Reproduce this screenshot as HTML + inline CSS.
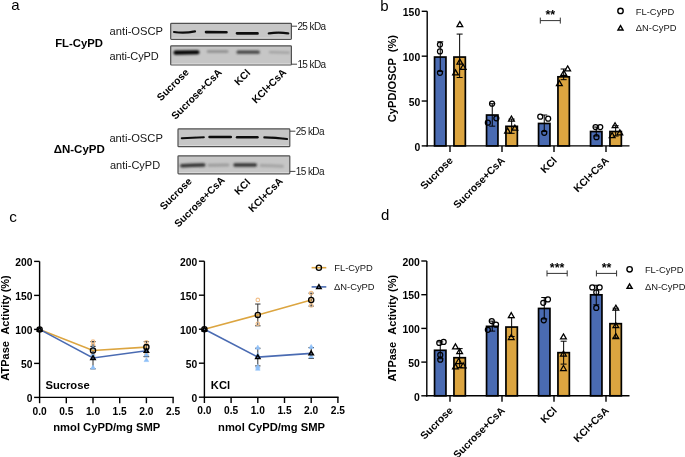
<!DOCTYPE html>
<html><head><meta charset="utf-8"><style>
html,body{margin:0;padding:0;background:#fff;}
svg{display:block;will-change:transform;font-family:"Liberation Sans",sans-serif;}
</style></head><body>
<svg width="685" height="457" viewBox="0 0 685 457">
<defs><filter id="blur" filterUnits="userSpaceOnUse" x="0" y="0" width="685" height="457"><feGaussianBlur stdDeviation="0.75"/></filter><filter id="blur2" filterUnits="userSpaceOnUse" x="0" y="0" width="685" height="457"><feGaussianBlur stdDeviation="1.0"/></filter></defs>
<rect width="685" height="457" fill="#fff"/>
<text x="11.30" y="9.80" font-size="15" font-weight="400" text-anchor="start" >a</text>
<text x="380.30" y="10.70" font-size="15" font-weight="400" text-anchor="start" >b</text>
<text x="9.20" y="221.60" font-size="15.3" font-weight="400" text-anchor="start" >c</text>
<text x="381.00" y="219.90" font-size="15" font-weight="400" text-anchor="start" >d</text>
<text x="55.20" y="46.90" font-size="11.3" font-weight="700" text-anchor="start" >FL-CyPD</text>
<text x="109.60" y="34.80" font-size="11.2" font-weight="400" text-anchor="start" fill="#161616">anti-OSCP</text>
<text x="109.40" y="59.90" font-size="11" font-weight="400" text-anchor="start" letter-spacing="-0.1" fill="#161616">anti-CyPD</text>
<rect x="170.70" y="23.40" width="120.70" height="15.90" rx="0.8" fill="#c6c6c6" stroke="#505050" stroke-width="1.2"/>
<line x1="171.60" y1="38.10" x2="290.50" y2="38.10" stroke="#dedede" stroke-width="0.8"/>
<path d="M174.0,32.0 Q184.5,33.5 195.0,31.4" stroke="#111" stroke-width="2.20" stroke-linecap="round" fill="none" filter="url(#blur)"/>
<path d="M206.0,32.1 Q216.2,32.2 226.5,32.2" stroke="#111" stroke-width="2.60" stroke-linecap="round" fill="none" filter="url(#blur)"/>
<path d="M237.0,33.3 Q247.2,33.3 257.5,33.4" stroke="#111" stroke-width="2.70" stroke-linecap="round" fill="none" filter="url(#blur)"/>
<path d="M268.8,33.3 Q278.5,32.1 288.2,33.3" stroke="#111" stroke-width="2.30" stroke-linecap="round" fill="none" filter="url(#blur)"/>
<rect x="170.70" y="45.80" width="120.70" height="19.20" rx="0.8" fill="#c6c6c6" stroke="#505050" stroke-width="1.2"/>
<line x1="171.60" y1="63.80" x2="290.50" y2="63.80" stroke="#dedede" stroke-width="0.8"/>
<path d="M175.5,52.6 Q186.5,52.4 197.5,52.2" stroke="#000" stroke-width="4.10" stroke-linecap="round" fill="none" filter="url(#blur2)"/>
<path d="M208.0,51.6 Q217.6,51.6 227.2,51.6" stroke="#8a8a8a" stroke-width="2.50" stroke-linecap="round" fill="none" filter="url(#blur2)"/>
<path d="M238.2,52.2 Q248.2,52.2 258.2,52.2" stroke="#404040" stroke-width="3.30" stroke-linecap="round" fill="none" filter="url(#blur2)"/>
<path d="M270.0,52.2 Q279.5,52.4 289.0,52.6" stroke="#a0a0a0" stroke-width="2.30" stroke-linecap="round" fill="none" filter="url(#blur2)"/>
<line x1="291.50" y1="26.20" x2="297.00" y2="26.20" stroke="#444" stroke-width="1.0"/>
<text x="297.40" y="29.80" font-size="10" font-weight="400" text-anchor="start" letter-spacing="-0.6" fill="#161616">25 kDa</text>
<line x1="291.50" y1="64.20" x2="297.00" y2="64.20" stroke="#444" stroke-width="1.0"/>
<text x="297.40" y="67.80" font-size="10" font-weight="400" text-anchor="start" letter-spacing="-0.6" fill="#161616">15 kDa</text>
<text x="53.70" y="153.10" font-size="11.5" font-weight="700" text-anchor="start" >ΔN-CyPD</text>
<text x="109.40" y="142.20" font-size="11.2" font-weight="400" text-anchor="start" fill="#161616">anti-OSCP</text>
<text x="110.00" y="168.90" font-size="11" font-weight="400" text-anchor="start" fill="#161616">anti-CyPD</text>
<rect x="178.00" y="128.90" width="111.80" height="17.80" rx="0.8" fill="#c6c6c6" stroke="#505050" stroke-width="1.2"/>
<line x1="178.90" y1="145.50" x2="288.90" y2="145.50" stroke="#dedede" stroke-width="0.8"/>
<path d="M181.8,138.3 Q192.8,137.8 203.8,137.2" stroke="#111" stroke-width="2.10" stroke-linecap="round" fill="none" filter="url(#blur)"/>
<path d="M209.5,137.0 Q220.2,137.0 230.8,137.0" stroke="#111" stroke-width="2.50" stroke-linecap="round" fill="none" filter="url(#blur)"/>
<path d="M237.0,137.2 Q247.2,137.2 257.5,137.2" stroke="#111" stroke-width="2.40" stroke-linecap="round" fill="none" filter="url(#blur)"/>
<path d="M264.3,137.4 Q275.6,137.6 287.0,139.0" stroke="#111" stroke-width="2.10" stroke-linecap="round" fill="none" filter="url(#blur)"/>
<rect x="178.00" y="155.80" width="111.80" height="18.00" rx="0.8" fill="#c6c6c6" stroke="#505050" stroke-width="1.2"/>
<line x1="178.90" y1="172.60" x2="288.90" y2="172.60" stroke="#dedede" stroke-width="0.8"/>
<path d="M181.8,165.8 Q192.8,165.4 203.8,165.1" stroke="#303030" stroke-width="3.50" stroke-linecap="round" fill="none" filter="url(#blur2)"/>
<path d="M209.0,165.2 Q218.5,165.1 228.0,165.0" stroke="#9c9c9c" stroke-width="2.90" stroke-linecap="round" fill="none" filter="url(#blur2)"/>
<path d="M235.0,165.0 Q245.2,165.0 255.3,165.0" stroke="#303030" stroke-width="3.50" stroke-linecap="round" fill="none" filter="url(#blur2)"/>
<path d="M261.0,165.5 Q271.8,165.8 282.5,166.2" stroke="#a4a4a4" stroke-width="2.90" stroke-linecap="round" fill="none" filter="url(#blur2)"/>
<line x1="289.90" y1="131.20" x2="295.40" y2="131.20" stroke="#444" stroke-width="1.0"/>
<text x="295.80" y="134.80" font-size="10" font-weight="400" text-anchor="start" letter-spacing="-0.6" fill="#161616">25 kDa</text>
<line x1="289.90" y1="171.40" x2="295.40" y2="171.40" stroke="#444" stroke-width="1.0"/>
<text x="295.80" y="175.00" font-size="10" font-weight="400" text-anchor="start" letter-spacing="-0.6" fill="#161616">15 kDa</text>
<text transform="translate(189.50,73.00) rotate(-45)" font-size="10.2" font-weight="700" text-anchor="end">Sucrose</text>
<text transform="translate(222.50,73.00) rotate(-45)" font-size="10.2" font-weight="700" text-anchor="end">Sucrose+CsA</text>
<text transform="translate(251.00,73.50) rotate(-45)" font-size="10.2" font-weight="700" text-anchor="end">KCl</text>
<text transform="translate(287.00,73.00) rotate(-45)" font-size="10.2" font-weight="700" text-anchor="end">KCl+CsA</text>
<text transform="translate(192.40,182.00) rotate(-45)" font-size="10.2" font-weight="700" text-anchor="end">Sucrose</text>
<text transform="translate(225.50,180.80) rotate(-45)" font-size="10.2" font-weight="700" text-anchor="end">Sucrose+CsA</text>
<text transform="translate(251.00,183.00) rotate(-45)" font-size="10.2" font-weight="700" text-anchor="end">KCl</text>
<text transform="translate(283.50,181.80) rotate(-45)" font-size="10.2" font-weight="700" text-anchor="end">KCl+CsA</text>
<line x1="427.20" y1="11.30" x2="427.20" y2="146.55" stroke="#000" stroke-width="1.4"/>
<line x1="426.50" y1="145.90" x2="629.50" y2="145.90" stroke="#000" stroke-width="1.4"/>
<line x1="421.70" y1="145.90" x2="427.20" y2="145.90" stroke="#000" stroke-width="1.4"/>
<text x="420.20" y="150.60" font-size="10.4" font-weight="700" text-anchor="end" >0</text>
<line x1="421.70" y1="101.03" x2="427.20" y2="101.03" stroke="#000" stroke-width="1.4"/>
<text x="420.20" y="105.73" font-size="10.4" font-weight="700" text-anchor="end" >50</text>
<line x1="421.70" y1="56.17" x2="427.20" y2="56.17" stroke="#000" stroke-width="1.4"/>
<text x="420.20" y="60.87" font-size="10.4" font-weight="700" text-anchor="end" >100</text>
<line x1="421.70" y1="11.30" x2="427.20" y2="11.30" stroke="#000" stroke-width="1.4"/>
<text x="420.20" y="16.00" font-size="10.4" font-weight="700" text-anchor="end" >150</text>
<line x1="450.00" y1="145.90" x2="450.00" y2="151.90" stroke="#000" stroke-width="1.4"/>
<line x1="502.00" y1="145.90" x2="502.00" y2="151.90" stroke="#000" stroke-width="1.4"/>
<line x1="554.00" y1="145.90" x2="554.00" y2="151.90" stroke="#000" stroke-width="1.4"/>
<line x1="606.00" y1="145.90" x2="606.00" y2="151.90" stroke="#000" stroke-width="1.4"/>
<rect x="434.55" y="57.06" width="11.4" height="88.84" fill="#4a6bb2" stroke="#000" stroke-width="1.7"/>
<line x1="440.25" y1="41.81" x2="440.25" y2="71.42" stroke="#000" stroke-width="1.0"/>
<line x1="437.25" y1="41.81" x2="443.25" y2="41.81" stroke="#000" stroke-width="1.0"/>
<line x1="437.25" y1="71.42" x2="443.25" y2="71.42" stroke="#000" stroke-width="1.0"/>
<circle cx="439.95" cy="44.50" r="2.5" fill="none" stroke="#000" stroke-width="1.25"/>
<circle cx="439.95" cy="51.41" r="2.5" fill="none" stroke="#000" stroke-width="1.25"/>
<circle cx="439.95" cy="72.86" r="2.5" fill="none" stroke="#000" stroke-width="1.25"/>
<rect x="453.95" y="57.06" width="11.4" height="88.84" fill="#dca540" stroke="#000" stroke-width="1.7"/>
<line x1="459.65" y1="34.09" x2="459.65" y2="77.52" stroke="#000" stroke-width="1.0"/>
<line x1="456.65" y1="34.09" x2="462.65" y2="34.09" stroke="#000" stroke-width="1.0"/>
<line x1="456.65" y1="77.52" x2="462.65" y2="77.52" stroke="#000" stroke-width="1.0"/>
<polygon points="459.85,21.57 462.75,26.59 456.95,26.59" fill="none" stroke="#000" stroke-width="1.25" stroke-linejoin="miter"/>
<polygon points="459.85,59.08 462.75,64.10 456.95,64.10" fill="none" stroke="#000" stroke-width="1.25" stroke-linejoin="miter"/>
<polygon points="463.15,64.46 466.05,69.48 460.25,69.48" fill="none" stroke="#000" stroke-width="1.25" stroke-linejoin="miter"/>
<polygon points="455.55,69.84 458.45,74.87 452.65,74.87" fill="none" stroke="#000" stroke-width="1.25" stroke-linejoin="miter"/>
<rect x="486.55" y="115.03" width="11.4" height="30.87" fill="#4a6bb2" stroke="#000" stroke-width="1.7"/>
<line x1="492.25" y1="103.73" x2="492.25" y2="126.16" stroke="#000" stroke-width="1.0"/>
<line x1="489.25" y1="103.73" x2="495.25" y2="103.73" stroke="#000" stroke-width="1.0"/>
<line x1="489.25" y1="126.16" x2="495.25" y2="126.16" stroke="#000" stroke-width="1.0"/>
<circle cx="492.05" cy="103.73" r="2.5" fill="none" stroke="#000" stroke-width="1.25"/>
<circle cx="496.35" cy="118.26" r="2.5" fill="none" stroke="#000" stroke-width="1.25"/>
<circle cx="487.85" cy="122.66" r="2.5" fill="none" stroke="#000" stroke-width="1.25"/>
<rect x="505.95" y="126.34" width="11.4" height="19.56" fill="#dca540" stroke="#000" stroke-width="1.7"/>
<line x1="511.65" y1="119.07" x2="511.65" y2="133.34" stroke="#000" stroke-width="1.0"/>
<line x1="508.65" y1="119.07" x2="514.65" y2="119.07" stroke="#000" stroke-width="1.0"/>
<line x1="508.65" y1="133.34" x2="514.65" y2="133.34" stroke="#000" stroke-width="1.0"/>
<polygon points="511.45,116.06 514.35,121.08 508.55,121.08" fill="none" stroke="#000" stroke-width="1.25" stroke-linejoin="miter"/>
<polygon points="514.85,125.12 517.75,130.14 511.95,130.14" fill="none" stroke="#000" stroke-width="1.25" stroke-linejoin="miter"/>
<polygon points="507.55,128.08 510.45,133.10 504.65,133.10" fill="none" stroke="#000" stroke-width="1.25" stroke-linejoin="miter"/>
<rect x="538.55" y="123.47" width="11.4" height="22.43" fill="#4a6bb2" stroke="#000" stroke-width="1.7"/>
<line x1="544.25" y1="115.03" x2="544.25" y2="131.54" stroke="#000" stroke-width="1.0"/>
<line x1="541.25" y1="115.03" x2="547.25" y2="115.03" stroke="#000" stroke-width="1.0"/>
<line x1="541.25" y1="131.54" x2="547.25" y2="131.54" stroke="#000" stroke-width="1.0"/>
<circle cx="540.25" cy="116.74" r="2.5" fill="none" stroke="#000" stroke-width="1.25"/>
<circle cx="548.15" cy="118.71" r="2.5" fill="none" stroke="#000" stroke-width="1.25"/>
<circle cx="544.25" cy="132.80" r="2.5" fill="none" stroke="#000" stroke-width="1.25"/>
<rect x="557.95" y="76.81" width="11.4" height="69.09" fill="#dca540" stroke="#000" stroke-width="1.7"/>
<line x1="563.65" y1="69.00" x2="563.65" y2="79.68" stroke="#000" stroke-width="1.0"/>
<line x1="560.65" y1="69.00" x2="566.65" y2="69.00" stroke="#000" stroke-width="1.0"/>
<line x1="560.65" y1="79.68" x2="566.65" y2="79.68" stroke="#000" stroke-width="1.0"/>
<polygon points="567.65,65.90 570.55,70.92 564.75,70.92" fill="none" stroke="#000" stroke-width="1.25" stroke-linejoin="miter"/>
<polygon points="563.75,70.38 566.65,75.40 560.85,75.40" fill="none" stroke="#000" stroke-width="1.25" stroke-linejoin="miter"/>
<polygon points="559.35,80.61 562.25,85.63 556.45,85.63" fill="none" stroke="#000" stroke-width="1.25" stroke-linejoin="miter"/>
<rect x="590.55" y="131.54" width="11.4" height="14.36" fill="#4a6bb2" stroke="#000" stroke-width="1.7"/>
<line x1="596.25" y1="127.06" x2="596.25" y2="136.03" stroke="#000" stroke-width="1.0"/>
<line x1="593.25" y1="127.06" x2="599.25" y2="127.06" stroke="#000" stroke-width="1.0"/>
<line x1="593.25" y1="136.03" x2="599.25" y2="136.03" stroke="#000" stroke-width="1.0"/>
<circle cx="595.55" cy="127.06" r="2.5" fill="none" stroke="#000" stroke-width="1.25"/>
<circle cx="600.25" cy="127.06" r="2.5" fill="none" stroke="#000" stroke-width="1.25"/>
<circle cx="596.45" cy="137.20" r="2.5" fill="none" stroke="#000" stroke-width="1.25"/>
<rect x="609.95" y="131.54" width="11.4" height="14.36" fill="#dca540" stroke="#000" stroke-width="1.7"/>
<line x1="615.65" y1="125.71" x2="615.65" y2="136.03" stroke="#000" stroke-width="1.0"/>
<line x1="612.65" y1="125.71" x2="618.65" y2="125.71" stroke="#000" stroke-width="1.0"/>
<line x1="612.65" y1="136.03" x2="618.65" y2="136.03" stroke="#000" stroke-width="1.0"/>
<polygon points="615.05,122.70 617.95,127.72 612.15,127.72" fill="none" stroke="#000" stroke-width="1.25" stroke-linejoin="miter"/>
<polygon points="619.85,129.79 622.75,134.81 616.95,134.81" fill="none" stroke="#000" stroke-width="1.25" stroke-linejoin="miter"/>
<polygon points="612.15,132.57 615.05,137.59 609.25,137.59" fill="none" stroke="#000" stroke-width="1.25" stroke-linejoin="miter"/>
<line x1="540.30" y1="20.60" x2="560.30" y2="20.60" stroke="#333" stroke-width="1.0"/>
<line x1="540.30" y1="17.60" x2="540.30" y2="23.60" stroke="#333" stroke-width="1.0"/>
<line x1="560.30" y1="17.60" x2="560.30" y2="23.60" stroke="#333" stroke-width="1.0"/>
<text x="550.30" y="19.30" font-size="12.5" font-weight="700" text-anchor="middle" >**</text>
<circle cx="620.50" cy="10.90" r="2.7" fill="none" stroke="#000" stroke-width="1.4"/>
<polygon points="620.50,25.60 623.00,29.93 618.00,29.93" fill="none" stroke="#000" stroke-width="1.45" stroke-linejoin="miter"/>
<text x="635.80" y="14.70" font-size="9.4" font-weight="400" text-anchor="start" fill="#161616">FL-CyPD</text>
<text x="635.80" y="31.40" font-size="9.4" font-weight="400" text-anchor="start" fill="#161616">ΔN-CyPD</text>
<text transform="translate(396.40,90.10) rotate(-90)" font-size="11.1" font-weight="700" text-anchor="middle">CyPD/OSCP</text>
<text transform="translate(396.40,43.60) rotate(-90)" font-size="11.1" font-weight="700" text-anchor="middle">(%)</text>
<text transform="translate(453.50,161.10) rotate(-45)" font-size="10.4" font-weight="700" text-anchor="end">Sucrose</text>
<text transform="translate(505.50,161.10) rotate(-45)" font-size="10.4" font-weight="700" text-anchor="end">Sucrose+CsA</text>
<text transform="translate(557.50,161.10) rotate(-45)" font-size="10.4" font-weight="700" text-anchor="end">KCl</text>
<text transform="translate(609.50,161.10) rotate(-45)" font-size="10.4" font-weight="700" text-anchor="end">KCl+CsA</text>
<line x1="426.80" y1="261.00" x2="426.80" y2="396.45" stroke="#000" stroke-width="1.4"/>
<line x1="426.10" y1="395.80" x2="629.50" y2="395.80" stroke="#000" stroke-width="1.4"/>
<line x1="421.30" y1="395.80" x2="426.80" y2="395.80" stroke="#000" stroke-width="1.4"/>
<text x="419.80" y="400.50" font-size="10.4" font-weight="700" text-anchor="end" >0</text>
<line x1="421.30" y1="362.10" x2="426.80" y2="362.10" stroke="#000" stroke-width="1.4"/>
<text x="419.80" y="366.80" font-size="10.4" font-weight="700" text-anchor="end" >50</text>
<line x1="421.30" y1="328.40" x2="426.80" y2="328.40" stroke="#000" stroke-width="1.4"/>
<text x="419.80" y="333.10" font-size="10.4" font-weight="700" text-anchor="end" >100</text>
<line x1="421.30" y1="294.70" x2="426.80" y2="294.70" stroke="#000" stroke-width="1.4"/>
<text x="419.80" y="299.40" font-size="10.4" font-weight="700" text-anchor="end" >150</text>
<line x1="421.30" y1="261.00" x2="426.80" y2="261.00" stroke="#000" stroke-width="1.4"/>
<text x="419.80" y="265.70" font-size="10.4" font-weight="700" text-anchor="end" >200</text>
<line x1="450.00" y1="395.80" x2="450.00" y2="401.80" stroke="#000" stroke-width="1.4"/>
<line x1="502.00" y1="395.80" x2="502.00" y2="401.80" stroke="#000" stroke-width="1.4"/>
<line x1="554.00" y1="395.80" x2="554.00" y2="401.80" stroke="#000" stroke-width="1.4"/>
<line x1="606.00" y1="395.80" x2="606.00" y2="401.80" stroke="#000" stroke-width="1.4"/>
<rect x="434.55" y="350.31" width="11.4" height="45.50" fill="#4a6bb2" stroke="#000" stroke-width="1.7"/>
<line x1="440.25" y1="341.88" x2="440.25" y2="358.73" stroke="#000" stroke-width="1.0"/>
<line x1="437.25" y1="341.88" x2="443.25" y2="341.88" stroke="#000" stroke-width="1.0"/>
<line x1="437.25" y1="358.73" x2="443.25" y2="358.73" stroke="#000" stroke-width="1.0"/>
<circle cx="439.25" cy="342.96" r="2.5" fill="none" stroke="#000" stroke-width="1.25"/>
<circle cx="443.65" cy="341.88" r="2.5" fill="none" stroke="#000" stroke-width="1.25"/>
<circle cx="440.25" cy="354.96" r="2.5" fill="none" stroke="#000" stroke-width="1.25"/>
<circle cx="440.25" cy="359.74" r="2.5" fill="none" stroke="#000" stroke-width="1.25"/>
<rect x="453.95" y="357.72" width="11.4" height="38.08" fill="#dca540" stroke="#000" stroke-width="1.7"/>
<line x1="459.65" y1="348.62" x2="459.65" y2="367.49" stroke="#000" stroke-width="1.0"/>
<line x1="456.65" y1="348.62" x2="462.65" y2="348.62" stroke="#000" stroke-width="1.0"/>
<line x1="456.65" y1="367.49" x2="462.65" y2="367.49" stroke="#000" stroke-width="1.0"/>
<polygon points="455.45,343.85 458.35,348.88 452.55,348.88" fill="none" stroke="#000" stroke-width="1.25" stroke-linejoin="miter"/>
<polygon points="459.65,348.64 462.55,353.66 456.75,353.66" fill="none" stroke="#000" stroke-width="1.25" stroke-linejoin="miter"/>
<polygon points="455.45,363.87 458.35,368.89 452.55,368.89" fill="none" stroke="#000" stroke-width="1.25" stroke-linejoin="miter"/>
<polygon points="463.15,362.79 466.05,367.82 460.25,367.82" fill="none" stroke="#000" stroke-width="1.25" stroke-linejoin="miter"/>
<polygon points="458.65,358.48 461.55,363.50 455.75,363.50" fill="none" stroke="#000" stroke-width="1.25" stroke-linejoin="miter"/>
<rect x="486.55" y="326.38" width="11.4" height="69.42" fill="#4a6bb2" stroke="#000" stroke-width="1.7"/>
<line x1="492.25" y1="321.12" x2="492.25" y2="331.10" stroke="#000" stroke-width="1.0"/>
<line x1="489.25" y1="321.12" x2="495.25" y2="321.12" stroke="#000" stroke-width="1.0"/>
<line x1="489.25" y1="331.10" x2="495.25" y2="331.10" stroke="#000" stroke-width="1.0"/>
<circle cx="491.75" cy="321.12" r="2.5" fill="none" stroke="#000" stroke-width="1.25"/>
<circle cx="496.05" cy="324.63" r="2.5" fill="none" stroke="#000" stroke-width="1.25"/>
<circle cx="487.85" cy="329.82" r="2.5" fill="none" stroke="#000" stroke-width="1.25"/>
<rect x="505.95" y="327.05" width="11.4" height="68.75" fill="#dca540" stroke="#000" stroke-width="1.7"/>
<line x1="511.65" y1="317.62" x2="511.65" y2="336.49" stroke="#000" stroke-width="1.0"/>
<line x1="508.65" y1="317.62" x2="514.65" y2="317.62" stroke="#000" stroke-width="1.0"/>
<line x1="508.65" y1="336.49" x2="514.65" y2="336.49" stroke="#000" stroke-width="1.0"/>
<polygon points="511.25,312.58 514.15,317.60 508.35,317.60" fill="none" stroke="#000" stroke-width="1.25" stroke-linejoin="miter"/>
<polygon points="511.25,334.49 514.15,339.51 508.35,339.51" fill="none" stroke="#000" stroke-width="1.25" stroke-linejoin="miter"/>
<rect x="538.55" y="308.45" width="11.4" height="87.35" fill="#4a6bb2" stroke="#000" stroke-width="1.7"/>
<line x1="544.25" y1="297.53" x2="544.25" y2="318.96" stroke="#000" stroke-width="1.0"/>
<line x1="541.25" y1="297.53" x2="547.25" y2="297.53" stroke="#000" stroke-width="1.0"/>
<line x1="541.25" y1="318.96" x2="547.25" y2="318.96" stroke="#000" stroke-width="1.0"/>
<circle cx="543.25" cy="302.79" r="2.5" fill="none" stroke="#000" stroke-width="1.25"/>
<circle cx="547.95" cy="299.42" r="2.5" fill="none" stroke="#000" stroke-width="1.25"/>
<circle cx="543.75" cy="320.31" r="2.5" fill="none" stroke="#000" stroke-width="1.25"/>
<rect x="557.95" y="352.66" width="11.4" height="43.14" fill="#dca540" stroke="#000" stroke-width="1.7"/>
<line x1="563.65" y1="341.21" x2="563.65" y2="364.12" stroke="#000" stroke-width="1.0"/>
<line x1="560.65" y1="341.21" x2="566.65" y2="341.21" stroke="#000" stroke-width="1.0"/>
<line x1="560.65" y1="364.12" x2="566.65" y2="364.12" stroke="#000" stroke-width="1.0"/>
<polygon points="563.45,333.88 566.35,338.90 560.55,338.90" fill="none" stroke="#000" stroke-width="1.25" stroke-linejoin="miter"/>
<polygon points="563.45,351.00 566.35,356.02 560.55,356.02" fill="none" stroke="#000" stroke-width="1.25" stroke-linejoin="miter"/>
<polygon points="563.45,365.49 566.35,370.51 560.55,370.51" fill="none" stroke="#000" stroke-width="1.25" stroke-linejoin="miter"/>
<rect x="590.55" y="294.83" width="11.4" height="100.97" fill="#4a6bb2" stroke="#000" stroke-width="1.7"/>
<line x1="596.25" y1="285.26" x2="596.25" y2="304.81" stroke="#000" stroke-width="1.0"/>
<line x1="593.25" y1="285.26" x2="599.25" y2="285.26" stroke="#000" stroke-width="1.0"/>
<line x1="593.25" y1="304.81" x2="599.25" y2="304.81" stroke="#000" stroke-width="1.0"/>
<circle cx="592.25" cy="287.42" r="2.5" fill="none" stroke="#000" stroke-width="1.25"/>
<circle cx="599.65" cy="287.42" r="2.5" fill="none" stroke="#000" stroke-width="1.25"/>
<circle cx="596.25" cy="292.34" r="2.5" fill="none" stroke="#000" stroke-width="1.25"/>
<circle cx="596.25" cy="307.98" r="2.5" fill="none" stroke="#000" stroke-width="1.25"/>
<rect x="609.95" y="323.68" width="11.4" height="72.12" fill="#dca540" stroke="#000" stroke-width="1.7"/>
<line x1="615.65" y1="308.18" x2="615.65" y2="337.84" stroke="#000" stroke-width="1.0"/>
<line x1="612.65" y1="308.18" x2="618.65" y2="308.18" stroke="#000" stroke-width="1.0"/>
<line x1="612.65" y1="337.84" x2="618.65" y2="337.84" stroke="#000" stroke-width="1.0"/>
<polygon points="615.85,305.17 618.75,310.19 612.95,310.19" fill="none" stroke="#000" stroke-width="1.25" stroke-linejoin="miter"/>
<polygon points="615.85,322.69 618.75,327.71 612.95,327.71" fill="none" stroke="#000" stroke-width="1.25" stroke-linejoin="miter"/>
<polygon points="615.85,333.47 618.75,338.50 612.95,338.50" fill="none" stroke="#000" stroke-width="1.25" stroke-linejoin="miter"/>
<line x1="547.00" y1="273.40" x2="567.20" y2="273.40" stroke="#333" stroke-width="1.0"/>
<line x1="547.00" y1="270.40" x2="547.00" y2="276.40" stroke="#333" stroke-width="1.0"/>
<line x1="567.20" y1="270.40" x2="567.20" y2="276.40" stroke="#333" stroke-width="1.0"/>
<text x="557.10" y="272.10" font-size="12.5" font-weight="700" text-anchor="middle" >***</text>
<line x1="596.40" y1="273.40" x2="616.60" y2="273.40" stroke="#333" stroke-width="1.0"/>
<line x1="596.40" y1="270.40" x2="596.40" y2="276.40" stroke="#333" stroke-width="1.0"/>
<line x1="616.60" y1="270.40" x2="616.60" y2="276.40" stroke="#333" stroke-width="1.0"/>
<text x="606.50" y="272.10" font-size="12.5" font-weight="700" text-anchor="middle" >**</text>
<circle cx="629.60" cy="269.30" r="2.7" fill="none" stroke="#000" stroke-width="1.4"/>
<polygon points="629.60,284.00 632.10,288.33 627.10,288.33" fill="none" stroke="#000" stroke-width="1.45" stroke-linejoin="miter"/>
<text x="644.90" y="273.10" font-size="9.4" font-weight="400" text-anchor="start" fill="#161616">FL-CyPD</text>
<text x="644.90" y="289.80" font-size="9.4" font-weight="400" text-anchor="start" fill="#161616">ΔN-CyPD</text>
<text transform="translate(396.30,361.70) rotate(-90)" font-size="11" font-weight="700" text-anchor="middle">ATPase</text>
<text transform="translate(396.30,314.80) rotate(-90)" font-size="11" font-weight="700" text-anchor="middle">Activity</text>
<text transform="translate(396.30,283.40) rotate(-90)" font-size="11" font-weight="700" text-anchor="middle">(%)</text>
<text transform="translate(453.50,411.10) rotate(-45)" font-size="10.4" font-weight="700" text-anchor="end">Sucrose</text>
<text transform="translate(505.50,411.10) rotate(-45)" font-size="10.4" font-weight="700" text-anchor="end">Sucrose+CsA</text>
<text transform="translate(557.50,411.10) rotate(-45)" font-size="10.4" font-weight="700" text-anchor="end">KCl</text>
<text transform="translate(609.50,411.10) rotate(-45)" font-size="10.4" font-weight="700" text-anchor="end">KCl+CsA</text>
<text transform="translate(9.20,360.90) rotate(-90)" font-size="11" font-weight="700" text-anchor="middle">ATPase</text>
<text transform="translate(9.20,314.70) rotate(-90)" font-size="11" font-weight="700" text-anchor="middle">Activity</text>
<text transform="translate(9.20,283.80) rotate(-90)" font-size="11" font-weight="700" text-anchor="middle">(%)</text>
<line x1="39.60" y1="261.40" x2="39.60" y2="398.05" stroke="#000" stroke-width="1.4"/>
<line x1="38.90" y1="397.40" x2="173.80" y2="397.40" stroke="#000" stroke-width="1.4"/>
<line x1="34.10" y1="397.40" x2="39.60" y2="397.40" stroke="#000" stroke-width="1.4"/>
<text x="32.50" y="401.80" font-size="10.3" font-weight="700" text-anchor="end" >0</text>
<line x1="34.10" y1="363.40" x2="39.60" y2="363.40" stroke="#000" stroke-width="1.4"/>
<text x="32.50" y="367.80" font-size="10.3" font-weight="700" text-anchor="end" >50</text>
<line x1="34.10" y1="329.40" x2="39.60" y2="329.40" stroke="#000" stroke-width="1.4"/>
<text x="32.50" y="333.80" font-size="10.3" font-weight="700" text-anchor="end" >100</text>
<line x1="34.10" y1="295.40" x2="39.60" y2="295.40" stroke="#000" stroke-width="1.4"/>
<text x="32.50" y="299.80" font-size="10.3" font-weight="700" text-anchor="end" >150</text>
<line x1="34.10" y1="261.40" x2="39.60" y2="261.40" stroke="#000" stroke-width="1.4"/>
<text x="32.50" y="265.80" font-size="10.3" font-weight="700" text-anchor="end" >200</text>
<line x1="39.60" y1="397.40" x2="39.60" y2="403.20" stroke="#000" stroke-width="1.4"/>
<text x="39.60" y="414.50" font-size="10.2" font-weight="700" text-anchor="middle" >0.0</text>
<line x1="66.30" y1="397.40" x2="66.30" y2="403.20" stroke="#000" stroke-width="1.4"/>
<text x="66.30" y="414.50" font-size="10.2" font-weight="700" text-anchor="middle" >0.5</text>
<line x1="93.00" y1="397.40" x2="93.00" y2="403.20" stroke="#000" stroke-width="1.4"/>
<text x="93.00" y="414.50" font-size="10.2" font-weight="700" text-anchor="middle" >1.0</text>
<line x1="119.70" y1="397.40" x2="119.70" y2="403.20" stroke="#000" stroke-width="1.4"/>
<text x="119.70" y="414.50" font-size="10.2" font-weight="700" text-anchor="middle" >1.5</text>
<line x1="146.40" y1="397.40" x2="146.40" y2="403.20" stroke="#000" stroke-width="1.4"/>
<text x="146.40" y="414.50" font-size="10.2" font-weight="700" text-anchor="middle" >2.0</text>
<line x1="173.10" y1="397.40" x2="173.10" y2="403.20" stroke="#000" stroke-width="1.4"/>
<text x="173.10" y="414.50" font-size="10.2" font-weight="700" text-anchor="middle" >2.5</text>
<text x="106.75" y="431.40" font-size="11.2" font-weight="700" text-anchor="middle" >nmol CyPD/mg SMP</text>
<text x="45.50" y="389.10" font-size="11.2" font-weight="700" text-anchor="start" >Sucrose</text>
<line x1="93.00" y1="341.64" x2="93.00" y2="359.32" stroke="#333" stroke-width="1.0"/>
<line x1="90.30" y1="341.64" x2="95.70" y2="341.64" stroke="#333" stroke-width="1.0"/>
<line x1="90.30" y1="359.32" x2="95.70" y2="359.32" stroke="#333" stroke-width="1.0"/>
<circle cx="93.00" cy="341.64" r="1.8" fill="none" stroke="#f2c08a" stroke-width="1.1"/>
<circle cx="93.00" cy="345.04" r="1.8" fill="none" stroke="#f2c08a" stroke-width="1.1"/>
<circle cx="93.00" cy="353.88" r="1.8" fill="none" stroke="#f2c08a" stroke-width="1.1"/>
<line x1="146.40" y1="341.64" x2="146.40" y2="356.60" stroke="#333" stroke-width="1.0"/>
<line x1="143.70" y1="341.64" x2="149.10" y2="341.64" stroke="#333" stroke-width="1.0"/>
<line x1="143.70" y1="356.60" x2="149.10" y2="356.60" stroke="#333" stroke-width="1.0"/>
<circle cx="146.40" cy="342.32" r="1.8" fill="none" stroke="#f2c08a" stroke-width="1.1"/>
<circle cx="146.40" cy="345.72" r="1.8" fill="none" stroke="#f2c08a" stroke-width="1.1"/>
<circle cx="146.40" cy="349.80" r="1.8" fill="none" stroke="#f2c08a" stroke-width="1.1"/>
<circle cx="146.40" cy="354.56" r="1.8" fill="none" stroke="#f2c08a" stroke-width="1.1"/>
<line x1="93.00" y1="346.40" x2="93.00" y2="368.84" stroke="#333" stroke-width="1.0"/>
<line x1="90.30" y1="346.40" x2="95.70" y2="346.40" stroke="#333" stroke-width="1.0"/>
<line x1="90.30" y1="368.84" x2="95.70" y2="368.84" stroke="#333" stroke-width="1.0"/>
<polygon points="93.00,346.05 95.30,350.03 90.70,350.03" fill="#8ec0f8" stroke="#8ec0f8" stroke-width="0.6" stroke-linejoin="miter"/>
<polygon points="93.00,365.09 95.30,369.07 90.70,369.07" fill="#8ec0f8" stroke="#8ec0f8" stroke-width="0.6" stroke-linejoin="miter"/>
<polygon points="93.00,352.17 95.30,356.15 90.70,356.15" fill="#8ec0f8" stroke="#8ec0f8" stroke-width="0.6" stroke-linejoin="miter"/>
<line x1="146.40" y1="349.12" x2="146.40" y2="356.60" stroke="#333" stroke-width="1.0"/>
<line x1="143.70" y1="349.12" x2="149.10" y2="349.12" stroke="#333" stroke-width="1.0"/>
<line x1="143.70" y1="356.60" x2="149.10" y2="356.60" stroke="#333" stroke-width="1.0"/>
<polygon points="146.40,352.17 148.70,356.15 144.10,356.15" fill="#8ec0f8" stroke="#8ec0f8" stroke-width="0.6" stroke-linejoin="miter"/>
<polygon points="146.40,357.61 148.70,361.59 144.10,361.59" fill="#8ec0f8" stroke="#8ec0f8" stroke-width="0.6" stroke-linejoin="miter"/>
<polygon points="146.40,347.41 148.70,351.39 144.10,351.39" fill="#8ec0f8" stroke="#8ec0f8" stroke-width="0.6" stroke-linejoin="miter"/>
<polyline points="39.60,329.40 93.00,350.48 146.40,347.08" fill="none" stroke="#dca540" stroke-width="1.6"/>
<polyline points="39.60,329.40 93.00,357.96 146.40,350.82" fill="none" stroke="#4a6bb2" stroke-width="1.6"/>
<circle cx="39.60" cy="329.40" r="2.6" fill="none" stroke="#000" stroke-width="1.35"/>
<circle cx="93.00" cy="350.48" r="2.6" fill="none" stroke="#000" stroke-width="1.35"/>
<circle cx="146.40" cy="347.08" r="2.6" fill="none" stroke="#000" stroke-width="1.35"/>
<polygon points="39.60,327.11 41.80,330.92 37.40,330.92" fill="none" stroke="#000" stroke-width="1.45" stroke-linejoin="miter"/>
<polygon points="93.00,355.67 95.20,359.48 90.80,359.48" fill="none" stroke="#000" stroke-width="1.45" stroke-linejoin="miter"/>
<polygon points="146.40,348.53 148.60,352.34 144.20,352.34" fill="none" stroke="#000" stroke-width="1.45" stroke-linejoin="miter"/>
<line x1="204.40" y1="261.20" x2="204.40" y2="397.85" stroke="#000" stroke-width="1.4"/>
<line x1="203.70" y1="397.20" x2="338.60" y2="397.20" stroke="#000" stroke-width="1.4"/>
<line x1="198.90" y1="397.20" x2="204.40" y2="397.20" stroke="#000" stroke-width="1.4"/>
<text x="197.30" y="401.60" font-size="10.3" font-weight="700" text-anchor="end" >0</text>
<line x1="198.90" y1="363.20" x2="204.40" y2="363.20" stroke="#000" stroke-width="1.4"/>
<text x="197.30" y="367.60" font-size="10.3" font-weight="700" text-anchor="end" >50</text>
<line x1="198.90" y1="329.20" x2="204.40" y2="329.20" stroke="#000" stroke-width="1.4"/>
<text x="197.30" y="333.60" font-size="10.3" font-weight="700" text-anchor="end" >100</text>
<line x1="198.90" y1="295.20" x2="204.40" y2="295.20" stroke="#000" stroke-width="1.4"/>
<text x="197.30" y="299.60" font-size="10.3" font-weight="700" text-anchor="end" >150</text>
<line x1="198.90" y1="261.20" x2="204.40" y2="261.20" stroke="#000" stroke-width="1.4"/>
<text x="197.30" y="265.60" font-size="10.3" font-weight="700" text-anchor="end" >200</text>
<line x1="204.40" y1="397.20" x2="204.40" y2="403.00" stroke="#000" stroke-width="1.4"/>
<text x="204.40" y="414.30" font-size="10.2" font-weight="700" text-anchor="middle" >0.0</text>
<line x1="231.10" y1="397.20" x2="231.10" y2="403.00" stroke="#000" stroke-width="1.4"/>
<text x="231.10" y="414.30" font-size="10.2" font-weight="700" text-anchor="middle" >0.5</text>
<line x1="257.80" y1="397.20" x2="257.80" y2="403.00" stroke="#000" stroke-width="1.4"/>
<text x="257.80" y="414.30" font-size="10.2" font-weight="700" text-anchor="middle" >1.0</text>
<line x1="284.50" y1="397.20" x2="284.50" y2="403.00" stroke="#000" stroke-width="1.4"/>
<text x="284.50" y="414.30" font-size="10.2" font-weight="700" text-anchor="middle" >1.5</text>
<line x1="311.20" y1="397.20" x2="311.20" y2="403.00" stroke="#000" stroke-width="1.4"/>
<text x="311.20" y="414.30" font-size="10.2" font-weight="700" text-anchor="middle" >2.0</text>
<line x1="337.90" y1="397.20" x2="337.90" y2="403.00" stroke="#000" stroke-width="1.4"/>
<text x="337.90" y="414.30" font-size="10.2" font-weight="700" text-anchor="middle" >2.5</text>
<text x="271.55" y="431.20" font-size="11.2" font-weight="700" text-anchor="middle" >nmol CyPD/mg SMP</text>
<text x="210.80" y="388.90" font-size="11.2" font-weight="700" text-anchor="start" >KCl</text>
<line x1="257.80" y1="304.04" x2="257.80" y2="325.80" stroke="#333" stroke-width="1.0"/>
<line x1="255.10" y1="304.04" x2="260.50" y2="304.04" stroke="#333" stroke-width="1.0"/>
<line x1="255.10" y1="325.80" x2="260.50" y2="325.80" stroke="#333" stroke-width="1.0"/>
<circle cx="257.80" cy="299.96" r="1.8" fill="none" stroke="#f2c08a" stroke-width="1.1"/>
<circle cx="257.80" cy="323.76" r="1.8" fill="none" stroke="#f2c08a" stroke-width="1.1"/>
<circle cx="257.80" cy="315.60" r="1.8" fill="none" stroke="#f2c08a" stroke-width="1.1"/>
<line x1="311.20" y1="293.16" x2="311.20" y2="306.08" stroke="#333" stroke-width="1.0"/>
<line x1="308.50" y1="293.16" x2="313.90" y2="293.16" stroke="#333" stroke-width="1.0"/>
<line x1="308.50" y1="306.08" x2="313.90" y2="306.08" stroke="#333" stroke-width="1.0"/>
<circle cx="311.20" cy="293.16" r="1.8" fill="none" stroke="#f2c08a" stroke-width="1.1"/>
<circle cx="311.20" cy="299.96" r="1.8" fill="none" stroke="#f2c08a" stroke-width="1.1"/>
<circle cx="311.20" cy="305.40" r="1.8" fill="none" stroke="#f2c08a" stroke-width="1.1"/>
<line x1="257.80" y1="348.24" x2="257.80" y2="365.92" stroke="#333" stroke-width="1.0"/>
<line x1="255.10" y1="348.24" x2="260.50" y2="348.24" stroke="#333" stroke-width="1.0"/>
<line x1="255.10" y1="365.92" x2="260.50" y2="365.92" stroke="#333" stroke-width="1.0"/>
<polygon points="257.80,345.17 260.10,349.15 255.50,349.15" fill="#8ec0f8" stroke="#8ec0f8" stroke-width="0.6" stroke-linejoin="miter"/>
<polygon points="257.80,364.21 260.10,368.19 255.50,368.19" fill="#8ec0f8" stroke="#8ec0f8" stroke-width="0.6" stroke-linejoin="miter"/>
<polygon points="257.80,366.25 260.10,370.23 255.50,370.23" fill="#8ec0f8" stroke="#8ec0f8" stroke-width="0.6" stroke-linejoin="miter"/>
<polygon points="257.80,352.65 260.10,356.63 255.50,356.63" fill="#8ec0f8" stroke="#8ec0f8" stroke-width="0.6" stroke-linejoin="miter"/>
<line x1="311.20" y1="347.56" x2="311.20" y2="358.44" stroke="#333" stroke-width="1.0"/>
<line x1="308.50" y1="347.56" x2="313.90" y2="347.56" stroke="#333" stroke-width="1.0"/>
<line x1="308.50" y1="358.44" x2="313.90" y2="358.44" stroke="#333" stroke-width="1.0"/>
<polygon points="311.20,344.49 313.50,348.47 308.90,348.47" fill="#8ec0f8" stroke="#8ec0f8" stroke-width="0.6" stroke-linejoin="miter"/>
<polygon points="311.20,354.01 313.50,357.99 308.90,357.99" fill="#8ec0f8" stroke="#8ec0f8" stroke-width="0.6" stroke-linejoin="miter"/>
<polyline points="204.40,329.20 257.80,314.92 311.20,299.96" fill="none" stroke="#dca540" stroke-width="1.6"/>
<polyline points="204.40,329.20 257.80,357.08 311.20,353.34" fill="none" stroke="#4a6bb2" stroke-width="1.6"/>
<circle cx="204.40" cy="329.20" r="2.6" fill="none" stroke="#000" stroke-width="1.35"/>
<circle cx="257.80" cy="314.92" r="2.6" fill="none" stroke="#000" stroke-width="1.35"/>
<circle cx="311.20" cy="299.96" r="2.6" fill="none" stroke="#000" stroke-width="1.35"/>
<polygon points="204.40,326.91 206.60,330.72 202.20,330.72" fill="none" stroke="#000" stroke-width="1.45" stroke-linejoin="miter"/>
<polygon points="257.80,354.79 260.00,358.60 255.60,358.60" fill="none" stroke="#000" stroke-width="1.45" stroke-linejoin="miter"/>
<polygon points="311.20,351.05 313.40,354.86 309.00,354.86" fill="none" stroke="#000" stroke-width="1.45" stroke-linejoin="miter"/>
<line x1="311.60" y1="267.70" x2="326.30" y2="267.70" stroke="#dca540" stroke-width="1.6"/>
<circle cx="318.90" cy="267.70" r="2.6" fill="none" stroke="#000" stroke-width="1.35"/>
<line x1="311.60" y1="286.90" x2="326.30" y2="286.90" stroke="#4a6bb2" stroke-width="1.6"/>
<polygon points="318.90,284.61 321.10,288.42 316.70,288.42" fill="none" stroke="#000" stroke-width="1.45" stroke-linejoin="miter"/>
<text x="334.20" y="271.20" font-size="9.4" font-weight="400" text-anchor="start" fill="#161616">FL-CyPD</text>
<text x="334.00" y="290.00" font-size="9.4" font-weight="400" text-anchor="start" fill="#161616">ΔN-CyPD</text>
</svg></body></html>
